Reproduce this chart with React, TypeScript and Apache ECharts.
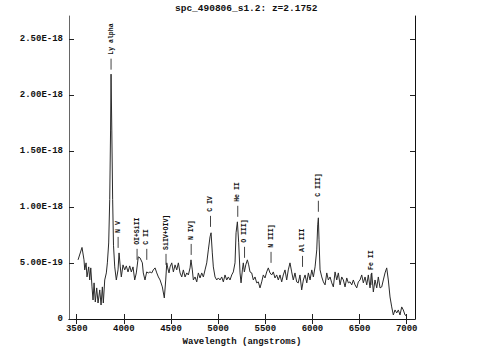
import React, { useEffect, useRef } from "react";
import * as echarts from "echarts";

// Spectrum (wavelength in angstroms, flux in units of 1E-19)
const wavelength = [
  3514, 3556, 3577, 3585, 3599, 3609, 3627, 3638, 3649, 3662, 3673, 3684, 3697, 3712, 3726, 3744, 3758, 3772, 3782, 3797,
  3814, 3825, 3839, 3850, 3859, 3864, 3872, 3881, 3890, 3903, 3920, 3938, 3949, 3962, 3973, 3991, 4009, 4026, 4044, 4062,
  4079, 4097, 4115, 4132, 4153, 4171, 4196, 4206, 4224, 4242, 4259, 4277, 4296, 4312, 4331, 4349, 4366, 4384, 4408, 4429,
  4444, 4455, 4465, 4479, 4490, 4508, 4525, 4543, 4561, 4578, 4596, 4614, 4631, 4649, 4667, 4684, 4702, 4712, 4726, 4737,
  4755, 4773, 4790, 4808, 4826, 4843, 4861, 4879, 4896, 4914, 4925, 4938, 4949, 4967, 4985, 5002, 5020, 5038, 5055, 5073,
  5091, 5108, 5126, 5144, 5161, 5179, 5190, 5204, 5218, 5232, 5243, 5257, 5267, 5278, 5293, 5310, 5324, 5338, 5356, 5373,
  5391, 5409, 5426, 5444, 5462, 5479, 5497, 5515, 5532, 5550, 5568, 5585, 5603, 5621, 5638, 5656, 5674, 5691, 5709, 5727,
  5744, 5762, 5780, 5797, 5815, 5833, 5850, 5868, 5886, 5904, 5922, 5940, 5957, 5975, 5993, 6010, 6028, 6046, 6056, 6063,
  6070, 6081, 6099, 6116, 6134, 6152, 6169, 6187, 6205, 6222, 6240, 6258, 6275, 6293, 6311, 6328, 6346, 6364, 6381, 6399,
  6417, 6434, 6452, 6470, 6487, 6505, 6523, 6540, 6558, 6576, 6593, 6611, 6629, 6646, 6664, 6682, 6699, 6717, 6735, 6752,
  6770, 6788, 6805, 6823, 6841, 6858, 6876, 6894, 6911, 6929, 6947, 6964, 6982, 7000,
];
const flux = [
  5.29, 6.40, 5.29, 4.39, 5.02, 3.76, 4.66, 3.49, 4.57, 2.87, 1.70, 3.23, 1.52, 2.78, 1.43, 2.60, 1.25, 2.87, 1.43, 3.49,
  4.12, 5.02, 6.80, 10.7, 16.9, 21.9, 16.9, 10.7, 6.60, 4.66, 3.49, 4.39, 5.91, 4.66, 3.76, 4.84, 4.39, 4.75, 4.21, 4.75,
  4.21, 4.66, 3.49, 4.12, 5.56, 5.47, 5.02, 4.12, 3.49, 4.21, 4.12, 4.21, 4.12, 4.39, 4.57, 4.12, 3.76, 3.49, 2.87, 1.88,
  3.49, 5.02, 4.57, 4.12, 4.66, 5.02, 4.21, 4.84, 4.39, 5.02, 4.12, 3.76, 4.39, 3.76, 4.12, 3.94, 4.57, 5.29, 4.39, 3.49,
  3.76, 3.32, 4.12, 3.67, 4.12, 3.76, 4.39, 5.02, 6.18, 7.35, 7.71, 5.91, 4.66, 3.76, 3.49, 3.67, 3.49, 3.76, 3.32, 3.94,
  3.49, 3.76, 3.49, 3.94, 4.21, 5.02, 7.71, 8.69, 6.81, 4.12, 3.23, 4.39, 5.02, 4.21, 4.84, 5.29, 4.84, 4.21, 4.12, 3.49,
  3.76, 3.23, 3.32, 2.78, 3.32, 3.94, 3.67, 4.21, 4.57, 4.12, 3.94, 4.21, 3.67, 3.94, 3.49, 3.94, 3.32, 3.94, 4.39, 3.49,
  4.39, 5.02, 4.21, 3.49, 4.12, 3.32, 3.23, 3.94, 2.60, 3.49, 3.94, 3.23, 4.12, 3.49, 4.39, 3.76, 4.66, 6.18, 8.42, 9.05,
  7.08, 4.39, 3.76, 3.32, 3.05, 4.12, 3.49, 3.76, 3.23, 2.87, 4.21, 3.49, 4.12, 3.05, 3.76, 3.49, 2.87, 3.67, 3.23, 3.32,
  3.05, 3.49, 3.05, 2.78, 3.32, 3.49, 3.94, 3.23, 3.76, 3.05, 3.94, 2.78, 4.12, 2.42, 3.49, 2.78, 3.76, 2.78, 2.87, 3.49,
  4.12, 4.57, 3.49, 1.97, 1.08, 0.36, 0.81, 0.54, 0.81, 0.36, 1.08, 0.81, 0.36, 0.27,
];

// Emission line identifications
const lineNames = ["Ly alpha", "N V", "OI+SiII", "C II", "SiIV+OIV]", "N IV]", "C IV", "He II", "O III]", "N III]", "Al III", "C III]", "Fe II"];
const lineWave = [3864, 3939, 4140, 4243, 4447, 4714, 4919, 5208, 5280, 5561, 5895, 6063, 6622];
const lineFlux = [22.3, 6.36, 5.29, 5.29, 4.84, 5.73, 8.24, 9.14, 5.47, 5.02, 4.66, 9.59, 3.05];

const xTicks = [3500, 4000, 4500, 5000, 5500, 6000, 6500, 7000];
const yTicks = [0, 5, 10, 15, 20, 25];

const titleText = "spc_490806_s1.2: z=2.1752";
const xName = "Wavelength (angstroms)";

const FONT = "Liberation Mono";

export default function App() {
  const ref = useRef<HTMLDivElement>(null);
  useEffect(() => {
    if (!ref.current) return;
    const chart = echarts.init(ref.current, null, { renderer: "svg" });
    const specData = wavelength.map((w, i) => [w, flux[i]]);
    const lineData = lineWave.map((w, i) => [w, lineFlux[i]]);
    const xMin = 3418;
    const xMax = 7088;
    const yMax = 27.1;
    const tickStyle = { show: true, inside: true, length: 5, lineStyle: { color: "#222", width: 1 } };
    chart.setOption({
      animation: false,
      backgroundColor: "#fff",
      title: {
        text: titleText,
        left: 175,
        top: 3,
        padding: 0,
        textStyle: { fontFamily: FONT, fontWeight: "bold", fontSize: 9.5, lineHeight: 10, color: "#111" },
      },
      grid: { left: 69, right: 68, top: 16, bottom: 39, containLabel: false },
      xAxis: [
        {
          type: "value",
          min: xMin,
          max: xMax,
          position: "bottom",
          name: xName,
          nameLocation: "middle",
          nameGap: 15,
          nameTextStyle: { fontFamily: FONT, fontWeight: "bold", fontSize: 9, color: "#111" },
          axisLine: { show: true, lineStyle: { color: "#666", width: 1 } },
          axisTick: { ...tickStyle, customValues: xTicks },
          axisLabel: {
            customValues: xTicks,
            margin: 5,
            fontFamily: FONT,
            fontWeight: "bold",
            fontSize: 9,
            color: "#111",
            formatter: (v: number) => String(v),
          },
          splitLine: { show: false },
        },
        {
          type: "value",
          min: xMin,
          max: xMax,
          position: "top",
          axisLine: { show: true, lineStyle: { color: "#111", width: 1 } },
          axisTick: { ...tickStyle, customValues: xTicks },
          axisLabel: { show: false },
          splitLine: { show: false },
        },
      ],
      yAxis: [
        {
          type: "value",
          min: 0,
          max: yMax,
          position: "left",
          axisLine: { show: true, lineStyle: { color: "#666", width: 1 } },
          axisTick: { ...tickStyle, customValues: yTicks },
          axisLabel: {
            customValues: yTicks,
            margin: 6,
            fontFamily: FONT,
            fontWeight: "bold",
            fontSize: 9,
            color: "#111",
            formatter: (v: number) => (v === 0 ? "0" : (v * 1e-19).toExponential(2).toUpperCase()),
          },
          splitLine: { show: false },
        },
        {
          type: "value",
          min: 0,
          max: yMax,
          position: "right",
          axisLine: { show: true, lineStyle: { color: "#111", width: 1 } },
          axisTick: { ...tickStyle, customValues: yTicks },
          axisLabel: { show: false },
          splitLine: { show: false },
        },
      ],
      series: [
        {
          type: "line",
          data: specData,
          xAxisIndex: 0,
          yAxisIndex: 0,
          showSymbol: false,
          symbol: "none",
          lineStyle: { color: "#2a2a2a", width: 1 },
        },
        {
          type: "custom",
          xAxisIndex: 0,
          yAxisIndex: 0,
          data: lineData,
          renderItem: (params: any, api: any) => {
            const p = api.coord([api.value(0), api.value(1)]);
            const name = lineNames[params.dataIndex];
            return {
              type: "group",
              children: [
                {
                  type: "line",
                  shape: { x1: p[0], y1: p[1], x2: p[0], y2: p[1] - 11 },
                  style: { stroke: "#444", lineWidth: 1 },
                },
                {
                  type: "text",
                  x: p[0],
                  y: p[1] - 15,
                  rotation: Math.PI / 2,
                  style: {
                    text: name,
                    fontFamily: FONT,
                    fontWeight: "bold",
                    fontSize: 6.5,
                    fill: "#111",
                    align: "left",
                    verticalAlign: "middle",
                  },
                },
              ],
            };
          },
        },
      ],
    });
    return () => chart.dispose();
  }, []);
  return (
    <div
      ref={ref}
      style={{ position: "absolute", left: 0, top: 0, width: 483, height: 358 }}
    />
  );
}
